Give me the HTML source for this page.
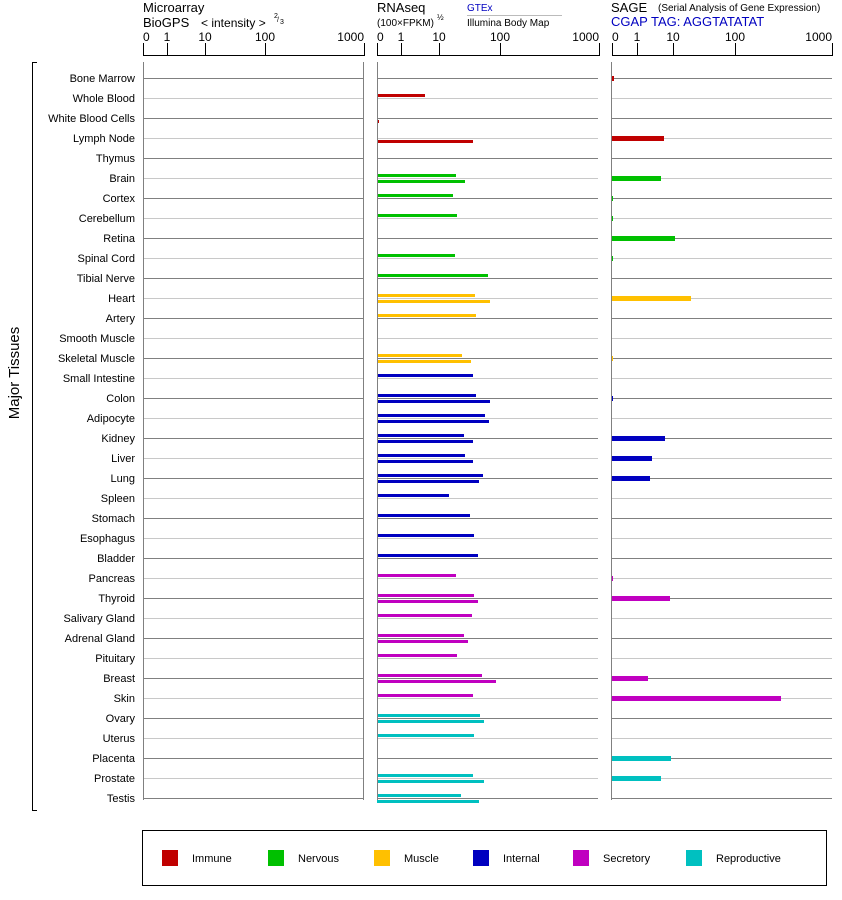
<!DOCTYPE html>
<html><head><meta charset="utf-8"><style>
body{margin:0;background:#fff;}
svg{display:block;font-family:"Liberation Sans",Arial,sans-serif;}
</style></head><body>
<svg id="s" width="842" height="900" xmlns="http://www.w3.org/2000/svg"></svg>
<script>
const s=document.getElementById('s');let h='';
const tis=["Bone Marrow","Whole Blood","White Blood Cells","Lymph Node","Thymus","Brain","Cortex","Cerebellum","Retina","Spinal Cord","Tibial Nerve","Heart","Artery","Smooth Muscle","Skeletal Muscle","Small Intestine","Colon","Adipocyte","Kidney","Liver","Lung","Spleen","Stomach","Esophagus","Bladder","Pancreas","Thyroid","Salivary Gland","Adrenal Gland","Pituitary","Breast","Skin","Ovary","Uterus","Placenta","Prostate","Testis"];
const C={I:"#c00000",N:"#00c000",M:"#ffc000",B:"#0000c0",S:"#c000c0",R:"#00c0c0"};
const cat="IIIIINNNNNNMMMMBBBBBBBBBBSSSSSSSRRRRR";
const rn=[[0,0],[425,0],[0,379],[0,473],[0,0],[456,465],[453,0],[457,0],[0,0],[455,0],[488,0],[475,490],[476,0],[0,0],[462,471],[473,0],[476,490],[485,489],[464,473],[465,473],[483,479],[449,0],[470,0],[474,0],[478,0],[456,0],[474,478],[472,0],[464,468],[457,0],[482,496],[473,0],[480,484],[474,0],[0,0],[473,484],[461,479]];
const sg={0:614,3:664,5:661,6:613,7:613,8:675,9:613,11:691,14:613,16:613,18:665,19:652,20:650,25:613,26:670,30:648,31:781,34:671,35:661};
tis.forEach((t,i)=>{const y=78+20*i;const col=i%2?"#c8c8c8":"#808080";
h+=`<text x="135" y="${y+4}" font-size="11" text-anchor="end">${t}</text>`;
[[143,363],[377,598],[611,832]].forEach(([a,b])=>h+=`<line x1="${a}" x2="${b}" y1="${y+0.5}" y2="${y+0.5}" stroke="${col}"/>`);
const c=C[cat[i]];const r=rn[i];
if(r[0])h+=`<rect x="377" y="${y-4}" width="${r[0]-377}" height="3" fill="${c}"/>`;
if(r[1])h+=`<rect x="377" y="${y+2}" width="${r[1]-377}" height="3" fill="${c}"/>`;
if(sg[i])h+=`<rect x="612" y="${y-2}" width="${sg[i]-612}" height="5" fill="${c}"/>`;
});
[143,363,377,611].forEach(x=>h+=`<line x1="${x+0.5}" x2="${x+0.5}" y1="62" y2="800" stroke="#808080"/>`);
function ax(x0,x1,ticks){h+=`<line x1="${x0}" x2="${x1}" y1="55.5" y2="55.5" stroke="#000"/>`;
ticks.forEach(([x,l])=>{h+=`<line x1="${x+0.5}" x2="${x+0.5}" y1="43" y2="56" stroke="#000"/>`;
h+=`<text x="${x}" y="41" font-size="12" text-anchor="${l=='1000'?'end':(l=='0'?'start':'middle')}">${l}</text>`;});}
ax(143,365,[[143,"0"],[167,"1"],[205,"10"],[265,"100"],[364,"1000"]]);
ax(377,600,[[377,"0"],[401,"1"],[439,"10"],[500,"100"],[599,"1000"]]);
ax(612,833,[[612,"0"],[637,"1"],[673,"10"],[735,"100"],[832,"1000"]]);
h+=`<text x="143" y="12" font-size="13">Microarray</text><text x="143" y="27" font-size="13">BioGPS</text>
<text x="201" y="27" font-size="12">&lt; intensity &gt;</text><text x="274" y="18" font-size="7">2</text><text x="277" y="22" font-size="7">/</text><text x="280" y="24" font-size="7">3</text>
<text x="377" y="12" font-size="13">RNAseq</text><text x="377" y="26" font-size="10">(100×FPKM)</text><text x="437" y="20" font-size="8">½</text>
<text x="467" y="11" font-size="10" fill="#0000c0">GTEx</text><line x1="467" x2="562" y1="15.5" y2="15.5" stroke="#bbb"/>
<text x="467" y="26" font-size="10">Illumina Body Map</text>
<text x="611" y="12" font-size="13">SAGE</text><text x="658" y="11" font-size="10">(Serial Analysis of Gene Expression)</text>
<text x="611" y="26" font-size="13" fill="#0000c0">CGAP TAG: AGGTATATAT</text>`;
h+=`<path d="M37 62.5H32.5V810.5H37" fill="none" stroke="#000"/>`;
h+=`<text transform="translate(19,373) rotate(-90)" font-size="15" text-anchor="middle">Major Tissues</text>`;
h+=`<rect x="142.5" y="830.5" width="684" height="55" fill="none" stroke="#000"/>`;
[["Immune","I",162],["Nervous","N",268],["Muscle","M",374],["Internal","B",473],["Secretory","S",573],["Reproductive","R",686]].forEach(([l,k,x])=>{
h+=`<rect x="${x}" y="850" width="16" height="16" fill="${C[k]}"/><text x="${x+30}" y="862" font-size="11">${l}</text>`;});
s.innerHTML=h;
</script>
</body></html>
